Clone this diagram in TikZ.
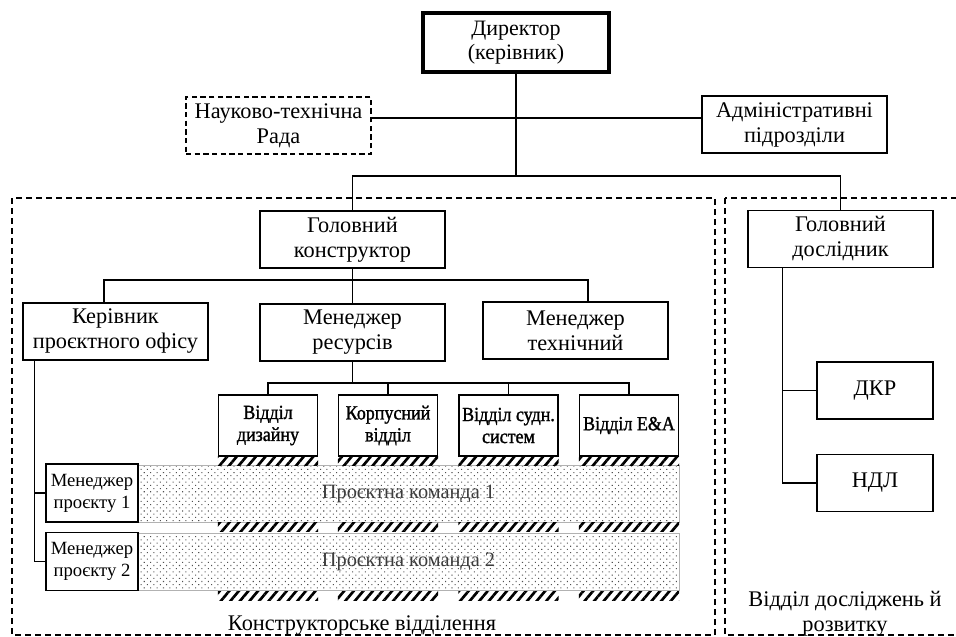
\documentclass[tikz,border=0pt]{standalone}
\usepackage{fontspec}
\setmainfont{Liberation Serif}
\newfontfamily\deptfont[FakeBold=1.3, FakeStretch=0.9]{Liberation Serif}
\usetikzlibrary{calc, patterns, patterns.meta}
\definecolor{dotgray}{RGB}{80,80,80}
\definecolor{teamtext}{RGB}{60,60,60}

\tikzset{
  unit box/.style={draw, line width=1pt, align=center, inner sep=1pt, fill=white,
    font=\fontsize{16.75}{18.75}\selectfont, minimum width=138.75pt, minimum height=42.75pt},
  dept box/.style={draw, line width=1pt, align=center, inner sep=1pt, fill=white,
    font=\deptfont\fontsize{15}{16.5}\selectfont, minimum width=74.25pt, minimum height=45.75pt},
  pm box/.style={draw, line width=1pt, align=center, inner sep=1pt, fill=white,
    font=\fontsize{14}{16.5}\selectfont, minimum width=69pt, minimum height=43.5pt},
  small box/.style={draw, line width=1pt, align=center, inner sep=1pt, fill=white,
    font=\fontsize{16.75}{18.75}\selectfont, minimum width=87pt, minimum height=42.75pt},
  team band/.style={draw=gray!60, line width=0.5pt, text=teamtext,
    pattern={Dots[radius=0.55pt, distance=3.4pt, angle=45]}, pattern color=dotgray,
    font=\fontsize{15.25}{18}\selectfont, minimum width=405.75pt, minimum height=43pt},
  hatch/.style={pattern={Lines[angle=50, distance=5.5pt, line width=2pt]}, pattern color=black},
  panel/.style={draw, line width=0.8pt, dash pattern=on 4.5pt off 3pt},
  panel label/.style={font=\fontsize{16.75}{18.5}\selectfont, align=center, inner sep=0pt},
  link/.style={draw, line width=1pt}
}

\begin{document}
\begin{tikzpicture}[x=0.75pt, y=-0.75pt]
  \useasboundingbox (0,0) rectangle (956,636);

  % dashed divisions
  \draw[panel] (12,198) rectangle (715,635);
  \draw[panel] (725,198) rectangle (964,635);

  % top level
  \node[unit box, line width=2.4pt, minimum width=139.5pt, minimum height=44.25pt,
    font=\fontsize{16.5}{17.5}\selectfont] (dir) at (516,42.5) {Директор\\(керівник)};
  \node[unit box, dash pattern=on 4pt off 2.5pt] (ntr) at (278.5,125.5) {Науково-технічна\\Рада};
  \node[unit box] (adm) at (794.5,124.5) {Адміністративні\\підрозділи};

  \node[unit box] (gk) at (352.5,239.5) {Головний\\конструктор};
  \node[unit box] (gd) at (840.5,239) {Головний\\дослідник};

  \node[unit box] (kpo) at (115.5,331.5) {Керівник\\проєктного офісу};
  \node[unit box] (mr) at (352.5,332.5) {Менеджер\\ресурсів};
  \node[unit box] (mt) at (575.5,330.5) {Менеджер\\технічний};

  \node[dept box] (dd) at (268,425.5) {Відділ\\дизайну};
  \node[dept box] (dk) at (388,425.5) {Корпусний\\відділ};
  \node[dept box] (ds) at (508.5,425.5) {Відділ судн.\\систем};
  \node[dept box] (de) at (629,425.5) {Відділ E\&A};

  \node[team band] (t1) at (408.5,493.5) {Проєктна команда 1};
  \node[team band] (t2) at (408.5,562) {Проєктна команда 2};
  \node[pm box] (mp1) at (92,493) {Менеджер\\проєкту 1};
  \node[pm box] (mp2) at (92,561.5) {Менеджер\\проєкту 2};

  \node[small box] (dkr) at (875,390.5) {ДКР};
  \node[small box] (ndl) at (875,483) {НДЛ};

  \foreach \d in {dd,dk,ds,de}
    \foreach \yy in {456,522,591}
      \path[hatch] (\d.west |- 0,\yy) rectangle (\d.east |- 0,{\yy+9});

  % connectors
  \coordinate (j0) at (dir.south |- 0,176);
  \draw[link] (dir.south) -- (j0);
  \draw[link] (ntr.east |- 0,118) -- (adm.west |- 0,118);
  \draw[link] (gk.north) |- (j0) -| (gd.north);

  \coordinate (j1) at (gk.south |- 0,280);
  \draw[link] (gk.south) -- (j1);
  \draw[link] ($(kpo.north)+(-11.5,0)$) |- (j1) -| ($(mt.north)+(12.5,0)$);
  \draw[link] (j1) -- (mr.north);

  \coordinate (j2) at (mr.south |- 0,383);
  \draw[link] (mr.south) -- (j2);
  \draw[link] (dd.north) |- (j2) -| (de.north);
  \draw[link] (dk.north) -- (dk.north |- j2);
  \draw[link] (ds.north) -- (ds.north |- j2);

  \coordinate (kb) at ($(kpo.south west)+(12,0)$);
  \draw[link] (kb) |- (mp1.west);
  \draw[link] (kb) |- (mp2.west);

  \coordinate (gb) at ($(gd.south west)+(35,0)$);
  \draw[link] (gb) |- (dkr.west);
  \draw[link] (gb) |- (ndl.west);

  % division names
  \node[panel label, anchor=base] (kv) at (362,630) {Конструкторське відділення};
  \node[panel label, anchor=base] (vdr) at (845,631) {Відділ досліджень й\\розвитку};
\end{tikzpicture}
\end{document}
